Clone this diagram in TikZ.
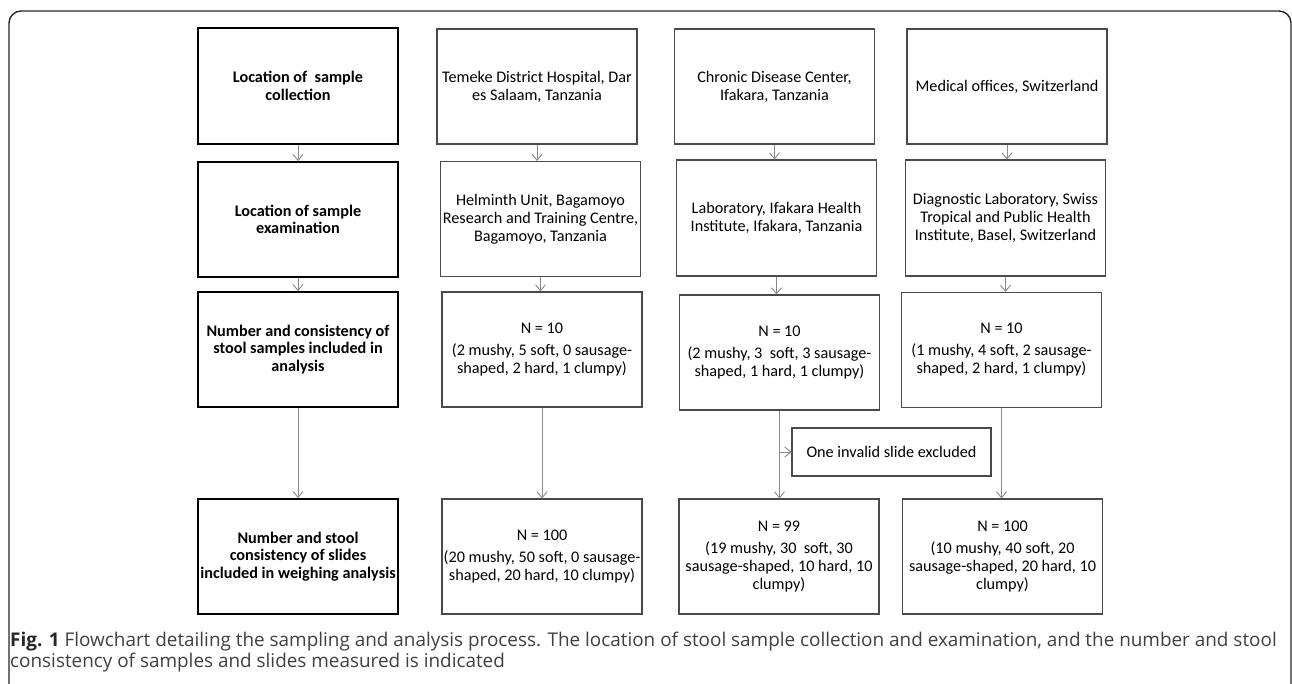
\documentclass[tikz,border=0pt]{standalone}
\usepackage{fontspec}
\setmainfont{Carlito}
\newfontfamily\capfont{Open Sans}
\usetikzlibrary{arrows.meta}
\definecolor{boxgray}{HTML}{4A4A4A}
\definecolor{arrgray}{HTML}{8A8A8A}
\definecolor{capgray}{HTML}{404040}
\begin{document}
\begin{tikzpicture}[x=1pt,y=-1pt,
  lbox/.style={draw=black, line width=1.8pt, font=\fontsize{16.2}{17.5}\selectfont\bfseries,
    align=center, inner xsep=0pt, inner ysep=2pt, minimum width=200pt, minimum height=115pt},
  dbox/.style={draw=boxgray, line width=1.1pt, font=\fontsize{16.2}{18}\selectfont,
    align=center, inner xsep=0pt, inner ysep=2pt, minimum width=200pt, minimum height=115pt},
  arr/.style={draw=arrgray, line width=0.9pt, -{Straight Barb[length=6pt,width=10pt,line width=0.9pt]}},
  frame/.style={draw=black!85, line width=1.4pt, rounded corners=12pt},
  captext/.style={anchor=base west, inner sep=0pt, text=capgray, font=\capfont\fontsize{18.9}{21}\selectfont},
]
\useasboundingbox (0,0) rectangle (1292,683);
\begin{scope}
\clip (0,0) rectangle (1292,683);
\coordinate (fbl) at (9,700);
\coordinate (ftl) at (9,11);
\coordinate (ftr) at (1291,11);
\coordinate (fbr) at (1291,700);
\draw[frame] (fbl) -- (ftl) -- (ftr) -- (fbr);
\end{scope}

% left column
\node[lbox, minimum height=116pt] (l1) at (298,86) {Location of\ \ sample\\collection};
\node[lbox] (l2) at (298,219.5) {Location of sample\\examination};
\node[lbox] (l3) at (298,349.5) {Number and consistency of\\stool samples included in\\analysis};
\node[lbox] (l4) at (298,556.5) {Number and stool\\consistency of slides\\included in weighing analysis};

% column 2
\node[dbox] (a1) at (537,86.5) {Temeke District Hospital, Dar\\es Salaam, Tanzania};
\node[dbox] (a2) at (540.5,219) {Helminth Unit, Bagamoyo\\Research and Training Centre,\\Bagamoyo, Tanzania};
\node[dbox] (a3) at (542,349.5) {N = 10\\[4pt](2 mushy, 5 soft, 0 sausage-\\shaped, 2 hard, 1 clumpy)};
\node[dbox] (a4) at (542,556.5) {N = 100\\[4pt](20 mushy, 50 soft, 0 sausage-\\shaped, 20 hard, 10 clumpy)};

% column 3
\node[dbox] (b1) at (774.5,86.5) {Chronic Disease Center,\\Ifakara, Tanzania};
\node[dbox, minimum height=116pt] (b2) at (776.5,218) {Laboratory, Ifakara Health\\Institute, Ifakara, Tanzania};
\node[dbox] (b3) at (779.5,352.5) {N = 10\\[4pt](2 mushy, 3\ \ soft, 3 sausage-\\shaped, 1 hard, 1 clumpy)};
\node[dbox] (b4) at (779,556.5) {N = 99\\[4pt](19 mushy, 30\ \ soft, 30\\sausage-shaped, 10 hard, 10\\clumpy)};

% column 4
\node[dbox] (c1) at (1007,86.5) {Medical offices, Switzerland};
\node[dbox, minimum height=116pt] (c2) at (1005.5,218) {Diagnostic Laboratory, Swiss\\Tropical and Public Health\\Institute, Basel, Switzerland};
\node[dbox] (c3) at (1001.5,350) {N = 10\\[4pt](1 mushy, 4 soft, 2 sausage-\\shaped, 2 hard, 1 clumpy)};
\node[dbox] (c4) at (1002.5,556.5) {N = 100\\[4pt](10 mushy, 40 soft, 20\\sausage-shaped, 20 hard, 10\\clumpy)};

% exclusion
\node[dbox, minimum width=199pt, minimum height=48pt] (ex) at (891.5,452) {One invalid slide excluded};

% arrows
\foreach \u/\v in {l1/l2,l2/l3,l3/l4,a1/a2,a2/a3,a3/a4,b1/b2,b2/b3,b3/b4,c1/c2,c2/c3,c3/c4}{
  \draw[arr] (\u.south) -- (\u.south |- \v.north);
}
\draw[arr] (b3.south |- ex.west) -- (ex.west);

% caption
\node[captext] (cap1) at (10,646)
  {\textbf{\color{black!85}Fig. 1} Flowchart detailing the sampling and analysis process. The location of stool sample collection and examination, and the number and stool};
\node[captext] (cap2) at (10,667)
  {consistency of samples and slides measured is indicated};
\end{tikzpicture}
\end{document}
